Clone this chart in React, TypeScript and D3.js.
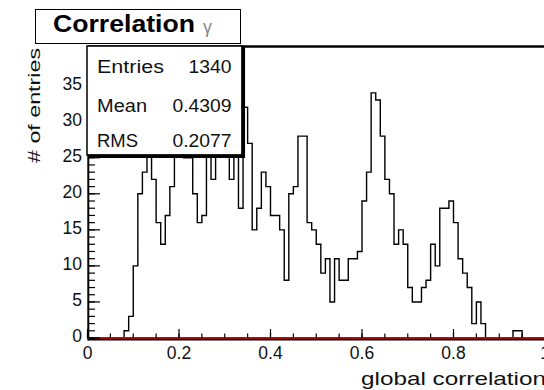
import React from "react";
import * as d3 from "d3";

// ---- data ----
const binLow = 0;
const binHigh = 1;
const counts: number[] = [
  0, 0, 0, 0, 0, 0, 0, 0, 1, 3,
  10, 20, 23, 26, 22, 16, 13, 17, 21, 26,
  27, 25, 25, 20, 16, 17, 27, 22, 26, 38,
  28, 22, 27, 18, 32, 27, 15, 18, 23, 21,
  17, 17, 15, 8, 20, 21, 28, 28, 16, 15,
  13, 9, 11, 5, 11, 8, 8, 11, 11, 12,
  19, 23, 34, 33, 28, 22, 20, 13, 15, 13,
  7, 5, 5, 7, 8, 13, 10, 18, 18, 19,
  16, 11, 9, 7, 2, 5, 2, 0, 0, 0,
  0, 0, 0, 1, 1, 0, 0, 0, 0, 0,
];
const xTickValues = [0, 0.2, 0.4, 0.6, 0.8, 1];
const xTickLabels = ["0", "0.2", "0.4", "0.6", "0.8", "1"];
const yTickValues = [0, 5, 10, 15, 20, 25, 30, 35];
const yMaxAxis = 40.5;
const titleText = "Correlation";
const titleGreek = "γ";
const xTitle = "global correlation";
const yTitle = "# of entries";
const statsLabels = ["Entries", "Mean", "RMS"];
const statsValues = ["1340", "0.4309", "0.2077"];

const W = 544;
const H = 390;
const FONT = "'Liberation Sans', Arial, Helvetica, sans-serif";

export default function App() {
  const x = d3.scaleLinear().domain([binLow, binHigh]).range([87.5, 545]);
  const y = d3.scaleLinear().domain([0, yMaxAxis]).range([338, 46]);
  const bw = (binHigh - binLow) / counts.length;

  const pts: [number, number][] = counts.map((c, i) => [binLow + i * bw, c]);
  pts.push([binHigh, counts[counts.length - 1]]);
  const line = d3
    .line<[number, number]>()
    .x((d) => x(d[0]))
    .y((d) => y(d[1]))
    .curve(d3.curveStepAfter);
  const histPath = line(pts) || "";

  const yMinor = d3.range(0, 41, 1);
  const xMinor = d3.range(0, 1.0001, 0.05);

  const textLens = [67, 50, 41];
  const statsY = [73.3, 111.7, 146.7];

  return (
    <svg
      width={W}
      height={H}
      style={{ position: "absolute", left: 0, top: 0, background: "#fff" }}
      fontFamily={FONT}
    >
      <rect x={0} y={0} width={W} height={H} fill="#fff" />
      {/* histogram */}
      <path d={histPath} fill="none" stroke="#000" strokeWidth={1.4} />
      {/* frame top */}
      <line x1={88} x2={W} y1={46.5} y2={46.5} stroke="#000" strokeWidth={2.5} />
      {/* red function at zero */}
      <line x1={88} x2={W} y1={y(0)} y2={y(0)} stroke="#e00000" strokeWidth={1.8} />
      {/* x axis */}
      <line x1={88} x2={W} y1={y(0) + 1.7} y2={y(0) + 1.7} stroke="#000" strokeWidth={1.8} />
      {xMinor.map((v, i) => (
        <line key={"xm" + i} x1={x(v)} x2={x(v)} y1={y(0)} y2={y(0) - 4.5} stroke="#000" strokeWidth={1.2} />
      ))}
      {xTickValues.map((v, i) => (
        <line key={"xM" + i} x1={x(v)} x2={x(v)} y1={y(0)} y2={y(0) - 9} stroke="#000" strokeWidth={1.2} />
      ))}
      {xTickValues.map((v, i) => (
        <text key={"xl" + i} x={x(v)} y={359} fontSize={17.5} textAnchor="middle" fill="#111">
          {xTickLabels[i]}
        </text>
      ))}
      {/* y axis */}
      <line x1={88.3} x2={88.3} y1={46} y2={y(0) + 2.5} stroke="#000" strokeWidth={2} />
      {yMinor.map((v, i) => (
        <line key={"ym" + i} x1={88} x2={95} y1={y(v)} y2={y(v)} stroke="#000" strokeWidth={1.2} />
      ))}
      {yTickValues.map((v, i) => (
        <line key={"yM" + i} x1={88} x2={100} y1={y(v)} y2={y(v)} stroke="#000" strokeWidth={1.2} />
      ))}
      {yTickValues.map((v, i) => (
        <text key={"yl" + i} x={82} y={y(v) + 4} fontSize={17.5} textAnchor="end" fill="#111">
          {String(v)}
        </text>
      ))}
      {/* axis titles */}
      <text
        x={546}
        y={384.5}
        fontSize={18.5}
        textAnchor="end"
        textLength={185}
        lengthAdjust="spacingAndGlyphs"
        fill="#111"
      >
        {xTitle}
      </text>
      <text
        transform="translate(40,48) rotate(-90)"
        fontSize={16}
        textAnchor="end"
        textLength={115}
        lengthAdjust="spacingAndGlyphs"
        fill="#111"
      >
        {yTitle}
      </text>
      {/* stats box */}
      <rect x={87} y={46} width={155} height={109} fill="#fff" stroke="#000" strokeWidth={1.5} />
      <line x1={243.3} x2={243.3} y1={46} y2={158} stroke="#000" strokeWidth={3.5} />
      <line x1={88} x2={245} y1={156.3} y2={156.3} stroke="#000" strokeWidth={3.5} />
      {statsLabels.map((s, i) => (
        <text
          key={"sl" + i}
          x={97}
          y={statsY[i]}
          fontSize={17.5}
          textLength={textLens[i]}
          lengthAdjust="spacingAndGlyphs"
          fill="#111"
        >
          {s}
        </text>
      ))}
      {statsValues.map((s, i) => (
        <text
          key={"sv" + i}
          x={231.5}
          y={statsY[i]}
          fontSize={17.5}
          textAnchor="end"
          textLength={i === 0 ? 43 : 59}
          lengthAdjust="spacingAndGlyphs"
          fill="#111"
        >
          {s}
        </text>
      ))}
      {/* title box */}
      <rect x={35.5} y={9.5} width={205} height={34} fill="#fff" stroke="#000" strokeWidth={1} />
      <text
        x={53}
        y={32.3}
        fontSize={24}
        fontWeight="bold"
        textLength={142}
        lengthAdjust="spacingAndGlyphs"
        fill="#000"
      >
        {titleText}
      </text>
      <text x={203} y={33} fontSize={18} fill="#888">
        {titleGreek}
      </text>
    </svg>
  );
}
